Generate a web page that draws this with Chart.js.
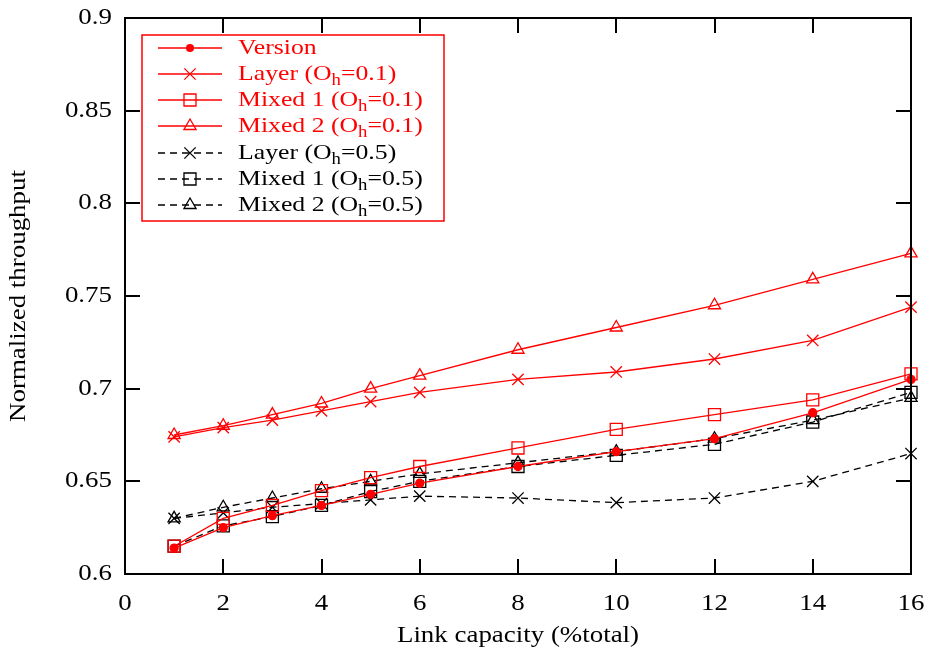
<!doctype html>
<html>
<head>
<meta charset="utf-8" />
<title>Normalized throughput</title>
<script src="https://cdn.jsdelivr.net/npm/chart.js@4.4.0/dist/chart.umd.min.js"></script>
<style>
  html, body { margin: 0; padding: 0; background: #fff; }
  #wrap { width: 932px; height: 657px; }
</style>
</head>
<body>
<div id="wrap"><canvas id="chart1"></canvas></div>
<script>
// link capacity (%total)
var xs = [1, 2, 3, 4, 5, 6, 8, 10, 12, 14, 16];
var xTicks = [0, 2, 4, 6, 8, 10, 12, 14, 16];
var yTicks = [0.6, 0.65, 0.7, 0.75, 0.8, 0.85, 0.9];

// normalized throughput
var version   = [0.614, 0.625, 0.6315, 0.637, 0.643, 0.649, 0.658, 0.666, 0.673, 0.687, 0.705];
var layer01   = [0.674, 0.679, 0.683, 0.688, 0.693, 0.698, 0.705, 0.709, 0.716, 0.726, 0.744];
var mixed1_01 = [0.615, 0.630, 0.637, 0.645, 0.652, 0.658, 0.668, 0.678, 0.686, 0.694, 0.708];
var mixed2_01 = [0.675, 0.680, 0.686, 0.692, 0.700, 0.707, 0.721, 0.733, 0.745, 0.759, 0.773];
var layer05   = [0.630, 0.633, 0.636, 0.638, 0.640, 0.642, 0.641, 0.6385, 0.641, 0.650, 0.665];
var mixed1_05 = [0.615, 0.626, 0.631, 0.637, 0.6445, 0.650, 0.658, 0.664, 0.670, 0.682, 0.698];
var mixed2_05 = [0.630, 0.636, 0.641, 0.646, 0.650, 0.654, 0.660, 0.666, 0.673, 0.683, 0.695];

var xTitle = 'Link capacity (%total)';
var yTitle = 'Normalized throughput';

var RED = '#ff0000', BLACK = '#000000';
var FONT = '"Liberation Serif", "Times New Roman", serif';
var STRETCH = 1.17; // the original's type is set a little wide

function pts(ys) {
  return xs.map(function(x, i) { return {x: x, y: ys[i]}; });
}

function series(label, sub, ys, color, style, r, dashed) {
  return {
    label: label, sub: sub,
    data: pts(ys),
    borderColor: color,
    backgroundColor: color,
    borderWidth: 1.3,
    borderDash: dashed ? [7, 5] : [],
    pointStyle: style,
    pointRadius: r,
    pointBorderColor: color,
    pointBackgroundColor: style === 'circle' ? color : 'rgba(0,0,0,0)',
    pointBorderWidth: 1.3,
    tension: 0,
    clip: false
  };
}

var datasets = [
  series('Version', null, version, RED, 'circle', 4, false),
  series('Layer (O', '=0.1)', layer01, RED, 'crossRot', 8, false),
  series('Mixed 1 (O', '=0.1)', mixed1_01, RED, 'rect', 8.5, false),
  series('Mixed 2 (O', '=0.1)', mixed2_01, RED, 'triangle', 7, false),
  series('Layer (O', '=0.5)', layer05, BLACK, 'crossRot', 8, true),
  series('Mixed 1 (O', '=0.5)', mixed1_05, BLACK, 'rect', 8.5, true),
  series('Mixed 2 (O', '=0.5)', mixed2_05, BLACK, 'triangle', 7, true)
];

function marker(ctx, style, x, y, r) {
  ctx.beginPath();
  if (style === 'circle') {
    ctx.arc(x, y, r, 0, Math.PI * 2);
    ctx.fill();
    return;
  }
  if (style === 'crossRot') {
    var o = r * Math.SQRT1_2;
    ctx.moveTo(x - o, y - o); ctx.lineTo(x + o, y + o);
    ctx.moveTo(x - o, y + o); ctx.lineTo(x + o, y - o);
  } else if (style === 'rect') {
    var s = r * Math.SQRT1_2;
    ctx.rect(x - s, y - s, 2 * s, 2 * s);
  } else if (style === 'triangle') {
    ctx.moveTo(x, y - r);
    ctx.lineTo(x + r * Math.sin(Math.PI * 2 / 3), y - r * Math.cos(Math.PI * 2 / 3));
    ctx.lineTo(x - r * Math.sin(Math.PI * 2 / 3), y - r * Math.cos(Math.PI * 2 / 3));
    ctx.closePath();
  }
  ctx.stroke();
}

// text drawn a bit wider than the font's natural width
function wideText(ctx, text, x, y, align, size) {
  ctx.save();
  ctx.font = size + 'px ' + FONT;
  ctx.textBaseline = 'middle';
  ctx.textAlign = align;
  ctx.translate(x, y);
  ctx.scale(STRETCH, 1);
  ctx.fillText(text, 0, 0);
  var w = ctx.measureText(text).width * STRETCH;
  ctx.restore();
  return w;
}

function fmt(v) { return String(parseFloat(v.toFixed(2))); }

// gnuplot-like frame with inward ticks, tick labels, titles and boxed legend
var framePlugin = {
  id: 'frame',
  afterDatasetsDraw: function(chart) {
    var ctx = chart.ctx, a = chart.chartArea;
    var sx = chart.scales.x, sy = chart.scales.y;
    var tl = 15;
    ctx.save();
    ctx.strokeStyle = BLACK;
    ctx.lineWidth = 2;
    ctx.setLineDash([]);
    ctx.strokeRect(a.left, a.top, a.right - a.left, a.bottom - a.top);
    ctx.beginPath();
    sx.ticks.forEach(function(t) {
      var px = Math.round(sx.getPixelForValue(t.value));
      ctx.moveTo(px, a.bottom); ctx.lineTo(px, a.bottom - tl);
      ctx.moveTo(px, a.top); ctx.lineTo(px, a.top + tl);
    });
    sy.ticks.forEach(function(t) {
      var py = Math.round(sy.getPixelForValue(t.value));
      ctx.moveTo(a.left, py); ctx.lineTo(a.left + tl, py);
      ctx.moveTo(a.right, py); ctx.lineTo(a.right - tl, py);
    });
    ctx.stroke();

    // tick labels and axis titles
    ctx.fillStyle = BLACK;
    sx.ticks.forEach(function(t) {
      wideText(ctx, fmt(t.value), sx.getPixelForValue(t.value), a.bottom + 30, 'center', 23);
    });
    sy.ticks.forEach(function(t) {
      wideText(ctx, fmt(t.value), a.left - 13, sy.getPixelForValue(t.value), 'right', 23);
    });
    wideText(ctx, xTitle, (a.left + a.right) / 2, 636, 'center', 23);
    ctx.save();
    ctx.translate(19, (a.top + a.bottom) / 2);
    ctx.rotate(-Math.PI / 2);
    wideText(ctx, yTitle, 0, 0, 'center', 23);
    ctx.restore();

    // legend
    var lx = 142, ly = 35, lw = 302, lh = 186;
    ctx.fillStyle = '#fff';
    ctx.fillRect(lx, ly, lw, lh);
    ctx.strokeStyle = RED;
    ctx.lineWidth = 1.5;
    ctx.strokeRect(lx, ly, lw, lh);
    var rowY = [48, 74, 100, 126, 153, 179, 205];
    datasets.forEach(function(d, i) {
      var y = rowY[i];
      ctx.strokeStyle = d.borderColor;
      ctx.fillStyle = d.borderColor;
      ctx.lineWidth = 1.3;
      ctx.setLineDash(d.borderDash);
      ctx.beginPath();
      ctx.moveTo(158, y); ctx.lineTo(222, y);
      ctx.stroke();
      ctx.setLineDash([]);
      marker(ctx, d.pointStyle, 190, y, d.pointRadius);
      var x = 238;
      x += wideText(ctx, d.label, x, y, 'left', 22);
      if (d.sub) {
        x += wideText(ctx, 'h', x, y + 7, 'left', 16);
        wideText(ctx, d.sub, x, y, 'left', 22);
      }
    });
    ctx.restore();
  }
};

var chart1 = new Chart('chart1', {
  type: 'line',
  data: { datasets: datasets },
  options: {
    responsive: true,
    maintainAspectRatio: false,
    animation: false,
    events: [],
    layout: { padding: { top: 18, right: 21, left: 0, bottom: 0 } },
    plugins: { legend: { display: false }, tooltip: { enabled: false } },
    scales: {
      x: {
        type: 'linear', min: 0, max: 16,
        afterFit: function(s) { s.height = 83; },
        afterBuildTicks: function(s) { s.ticks = xTicks.map(function(v) { return {value: v}; }); },
        grid: { display: false, drawTicks: false },
        border: { display: false },
        ticks: { display: false }
      },
      y: {
        type: 'linear', min: 0.6, max: 0.9,
        afterFit: function(s) { s.width = 125; },
        afterBuildTicks: function(s) { s.ticks = yTicks.map(function(v) { return {value: v}; }); },
        grid: { display: false, drawTicks: false },
        border: { display: false },
        ticks: { display: false }
      }
    }
  },
  plugins: [framePlugin]
});
</script>
</body>
</html>
